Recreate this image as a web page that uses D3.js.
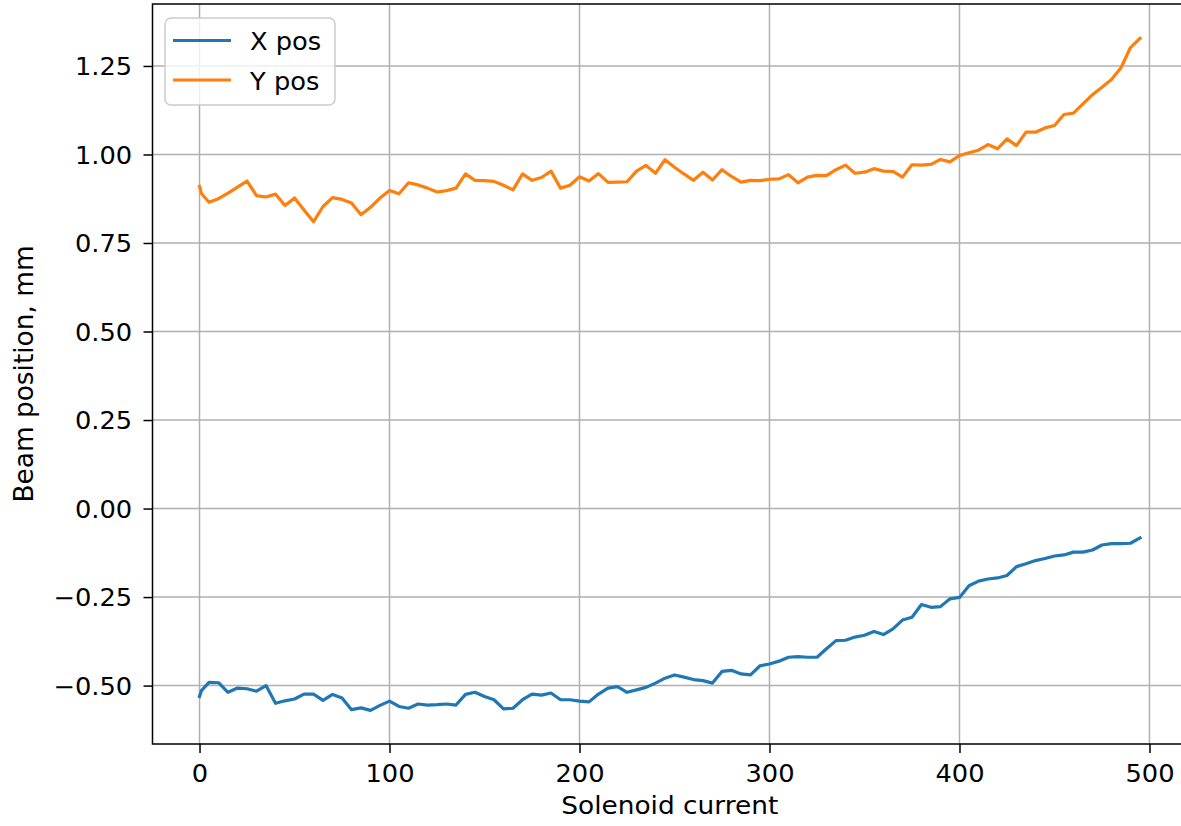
<!DOCTYPE html>
<meta charset="utf-8">
<script src="https://d3js.org/d3.v7.min.js"></script>
<style>
  body { margin: 0; background: #fff; }
  text { font-family: "DejaVu Sans", sans-serif; fill: #000; }
</style>
<body>
<div id="chart"></div>
<script>

// solenoid current (x values)
var currents = [0, 1, 5, 10, 15, 20, 25, 30, 35, 40, 45, 50, 55, 60, 65, 70, 75, 80, 85, 90, 95,
  100, 105, 110, 115, 120, 125, 130, 135, 140, 145, 150, 155, 160, 165, 170, 175, 180, 185, 190, 195,
  200, 205, 210, 215, 220, 225, 230, 235, 240, 245, 250, 255, 260, 265, 270, 275, 280, 285, 290, 295,
  300, 305, 310, 315, 320, 325, 330, 335, 340, 345, 350, 355, 360, 365, 370, 375, 380, 385, 390, 395,
  400, 405, 410, 415, 420, 425, 430, 435, 440, 445, 450, 455, 460, 465, 470, 475, 480, 485, 490, 495];

var xPos = [-0.531, -0.514, -0.491, -0.492, -0.519, -0.507, -0.509, -0.516, -0.500, -0.550, -0.543,
  -0.538, -0.524, -0.524, -0.542, -0.525, -0.535, -0.568, -0.563, -0.570, -0.556,
  -0.544, -0.559, -0.564, -0.552, -0.555, -0.554, -0.552, -0.555, -0.525, -0.519,
  -0.531, -0.540, -0.566, -0.564, -0.540, -0.524, -0.527, -0.521, -0.540, -0.540,
  -0.544, -0.546, -0.524, -0.507, -0.503, -0.519, -0.512, -0.505, -0.493, -0.479,
  -0.470, -0.476, -0.483, -0.486, -0.493, -0.460, -0.457, -0.467, -0.470, -0.444,
  -0.439, -0.431, -0.420, -0.418, -0.420, -0.420, -0.396, -0.373, -0.372, -0.363,
  -0.358, -0.347, -0.356, -0.340, -0.315, -0.307, -0.271, -0.279, -0.277, -0.255,
  -0.251, -0.218, -0.205, -0.199, -0.196, -0.189, -0.164, -0.156, -0.147, -0.141,
  -0.134, -0.131, -0.123, -0.123, -0.117, -0.103, -0.099, -0.099, -0.098, -0.083];

var yPos = [0.910, 0.890, 0.865, 0.875, 0.891, 0.908, 0.925, 0.884, 0.880, 0.888, 0.856,
  0.877, 0.843, 0.810, 0.853, 0.878, 0.873, 0.863, 0.830, 0.851, 0.877,
  0.898, 0.889, 0.920, 0.914, 0.905, 0.894, 0.898, 0.905, 0.945, 0.927,
  0.926, 0.924, 0.913, 0.900, 0.945, 0.927, 0.935, 0.953, 0.905, 0.913,
  0.937, 0.925, 0.946, 0.921, 0.922, 0.923, 0.953, 0.969, 0.947, 0.985,
  0.964, 0.945, 0.927, 0.950, 0.928, 0.957, 0.938, 0.922, 0.927, 0.926,
  0.930, 0.931, 0.943, 0.920, 0.936, 0.941, 0.940, 0.957, 0.970, 0.947,
  0.950, 0.960, 0.953, 0.952, 0.936, 0.971, 0.970, 0.972, 0.986, 0.979,
  0.997, 1.005, 1.012, 1.028, 1.016, 1.044, 1.025, 1.063, 1.063, 1.075,
  1.082, 1.113, 1.117, 1.143, 1.169, 1.190, 1.212, 1.245, 1.302, 1.328];

var xTicks = [0, 100, 200, 300, 400, 500];
var yTicks = [-0.5, -0.25, 0, 0.25, 0.5, 0.75, 1.0, 1.25];
var seriesNames = ["X pos", "Y pos"];
var colors = ["#1f77b4", "#ff7f0e"];

var W = 1181, H = 826;
var plotL = 152.5, plotR = 1187, plotT = 4, plotB = 744;
var fs = 24, sx = 1.072; // text is stretched a bit wider than tall

var svg = d3.select("#chart").append("svg")
    .attr("width", W)
    .attr("height", H);

svg.append("rect").attr("width", W).attr("height", H).attr("fill", "#fff");

var x = d3.scaleLinear().domain([-24.75, 519.75]).range([plotL, plotR]);
var y = d3.scaleLinear().domain([-0.665, 1.425]).range([plotB, plotT]);

// grid
svg.append("g").selectAll("line").data(xTicks).join("line")
    .attr("x1", d => x(d)).attr("x2", d => x(d))
    .attr("y1", plotT).attr("y2", plotB)
    .attr("stroke", "#b0b0b0").attr("stroke-width", 1.5);
svg.append("g").selectAll("line").data(yTicks).join("line")
    .attr("x1", plotL).attr("x2", plotR)
    .attr("y1", d => y(d)).attr("y2", d => y(d))
    .attr("stroke", "#b0b0b0").attr("stroke-width", 1.5);

// lines
var line = d3.line().x((d, i) => x(currents[i])).y(d => y(d));
[xPos, yPos].forEach(function(s, k) {
  svg.append("path")
    .datum(s)
    .attr("fill", "none")
    .attr("stroke", colors[k])
    .attr("stroke-width", 3.2)
    .attr("stroke-linejoin", "round")
    .attr("stroke-linecap", "square")
    .attr("d", line);
});

// axes
var fmt = d3.format(".2f");
var gx = svg.append("g")
    .attr("transform", "translate(0," + plotB + ")")
    .call(d3.axisBottom(x).tickValues(xTicks).tickSize(9).tickSizeOuter(0));
gx.select(".domain").remove();
gx.selectAll(".tick line").attr("stroke", "#000").attr("stroke-width", 1.5);
gx.selectAll(".tick text")
    .attr("y", 38).attr("dy", null)
    .style("font-size", fs + "px")
    .style("font-family", "DejaVu Sans")
    .attr("transform", "scale(" + sx + ",1)");

var gy = svg.append("g")
    .attr("transform", "translate(" + plotL + ",0)")
    .call(d3.axisLeft(y).tickValues(yTicks).tickSize(9).tickSizeOuter(0)
      .tickFormat(d => fmt(d).replace("-", "\u2212")));
gy.select(".domain").remove();
gy.selectAll(".tick line").attr("stroke", "#000").attr("stroke-width", 1.5);
gy.selectAll(".tick text")
    .attr("x", -19).attr("dy", "0.36em")
    .style("font-size", fs + "px")
    .style("font-family", "DejaVu Sans")
    .attr("transform", "scale(" + sx + ",1)");

// frame (right side is off the picture)
svg.append("path")
    .attr("d", "M" + plotR + "," + plotT + "H" + plotL + "V" + plotB + "H" + plotR)
    .attr("fill", "none").attr("stroke", "#000").attr("stroke-width", 1.5);

// axis labels
svg.append("text")
    .attr("transform", "translate(" + ((plotL + plotR) / 2) + ",814) scale(1.1,1)")
    .attr("text-anchor", "middle")
    .style("font-size", fs + "px")
    .text("Solenoid current");

svg.append("text")
    .attr("transform", "translate(33," + ((plotT + plotB) / 2) + ") rotate(-90) scale(1.1," + sx + ")")
    .attr("text-anchor", "middle")
    .style("font-size", fs + "px")
    .text("Beam position, mm");

// legend
var lg = svg.append("g");
lg.append("rect")
    .attr("x", 165).attr("y", 18).attr("width", 170).attr("height", 87).attr("rx", 6)
    .attr("fill", "#fff").attr("fill-opacity", 0.8)
    .attr("stroke", "#cccccc").attr("stroke-width", 1.5);
seriesNames.forEach(function(n, i) {
  var cy = 40.5 + i * 39.5;
  lg.append("line")
    .attr("x1", 173).attr("x2", 231).attr("y1", cy).attr("y2", cy)
    .attr("stroke", colors[i]).attr("stroke-width", 3.2);
  lg.append("text")
    .attr("transform", "translate(250," + (cy + 9.5) + ") scale(" + sx + ",1)")
    .style("font-size", fs + "px")
    .text(n);
});

</script>
</body>
